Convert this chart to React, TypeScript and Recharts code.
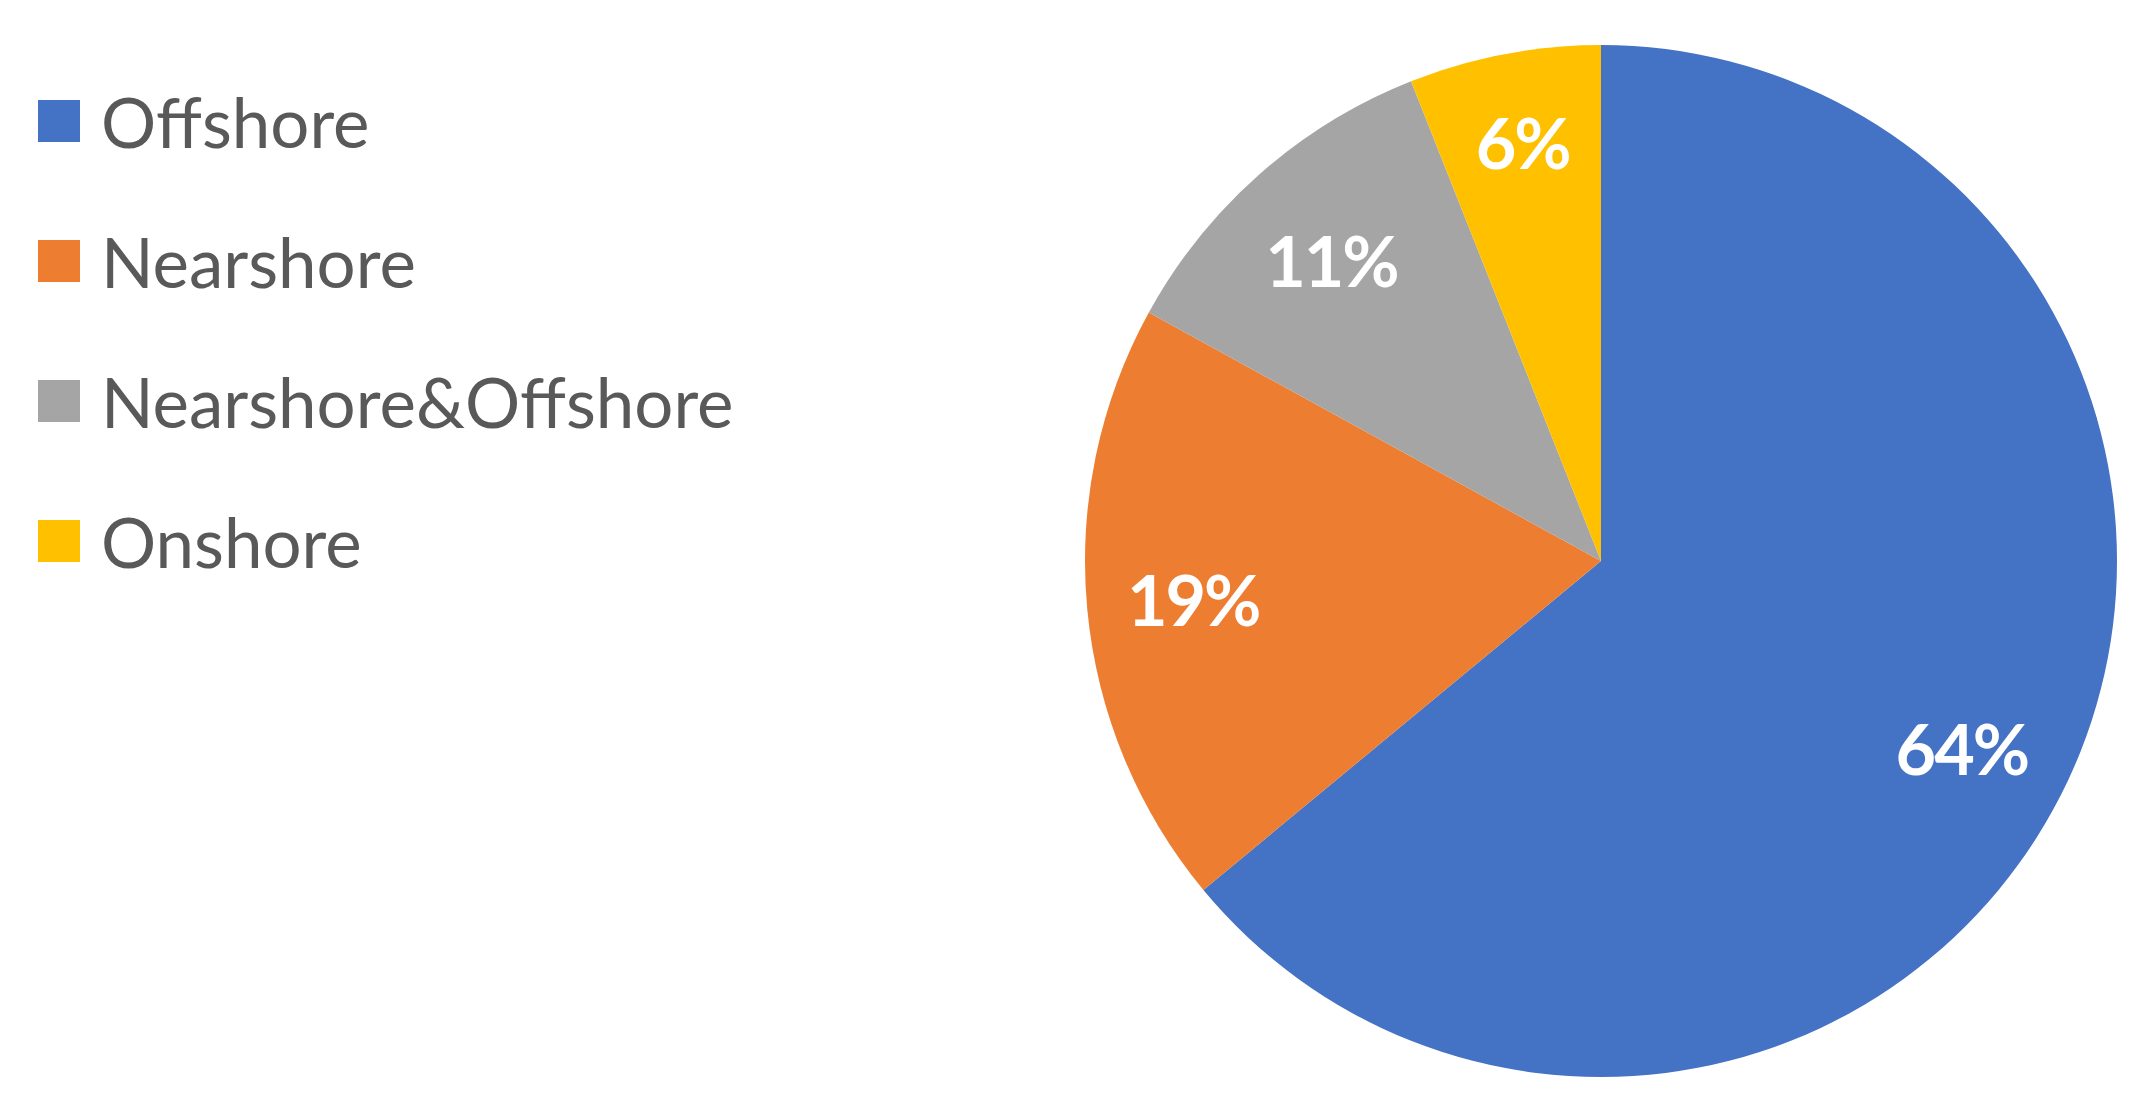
import React from 'react';
import { Cell, Pie, PieChart } from 'recharts';

const categories = ['Offshore', 'Nearshore', 'Nearshore&Offshore', 'Onshore'];
const shares = [64, 19, 11, 6];
const colors = ['#4472C4', '#ED7D31', '#A5A5A5', '#FFC000'];
// small nudges (px) so the labels sit where the original puts them
const labelNudge = [[-8, 15], [-2, 2], [0, 7], [-2, -17]];

const data = categories.map((name, i) => ({ name, value: shares[i] }));

const RADIAN = Math.PI / 180;
const LABEL_SIZE = 70;

const renderLabel = (props: any) => {
  const { cx, cy, midAngle, outerRadius, percent, index } = props;
  const r = outerRadius * 0.79;
  const [dx, dy] = labelNudge[index] || [0, 0];
  const x = cx + r * Math.cos(-midAngle * RADIAN) + dx;
  const y = cy + r * Math.sin(-midAngle * RADIAN) + dy;
  return (
    <text
      x={x}
      y={y + LABEL_SIZE * 0.358}
      fill="#FFFFFF"
      textAnchor="middle"
      fontFamily="Lato, 'Open Sans', sans-serif"
      fontWeight="bold"
      fontSize={LABEL_SIZE}
      letterSpacing={-2}
    >
      {`${Math.round(percent * 100)}%`}
    </text>
  );
};

// legend drawn as plain html so it does not push the pie around
const LegendBox = () => (
  <div style={{ position: 'absolute', left: 38, top: 51 }}>
    {categories.map((name, i) => (
      <div key={name} style={{ display: 'flex', alignItems: 'center', height: 140 }}>
        <span style={{ width: 42, height: 42, background: colors[i], display: 'inline-block' }} />
        <span
          style={{
            marginLeft: 21,
            fontFamily: 'Lato, sans-serif',
            fontSize: 69,
            color: '#595959',
            lineHeight: 1,
          }}
        >
          {name}
        </span>
      </div>
    ))}
  </div>
);

const App = () => (
  <div style={{ position: 'absolute', left: 0, top: 0, width: 2151, height: 1112, background: '#FFFFFF' }}>
    <PieChart width={2151} height={1112} margin={{ top: 0, right: 0, bottom: 0, left: 0 }}>
      <Pie
        data={data}
        dataKey="value"
        nameKey="name"
        cx={1601}
        cy={561}
        outerRadius={516}
        startAngle={90}
        endAngle={-270}
        stroke="none"
        label={renderLabel}
        labelLine={false}
        isAnimationActive={false}
      >
        {data.map((d, i) => (
          <Cell key={d.name} fill={colors[i]} />
        ))}
      </Pie>
    </PieChart>
    <LegendBox />
  </div>
);

export default App;
